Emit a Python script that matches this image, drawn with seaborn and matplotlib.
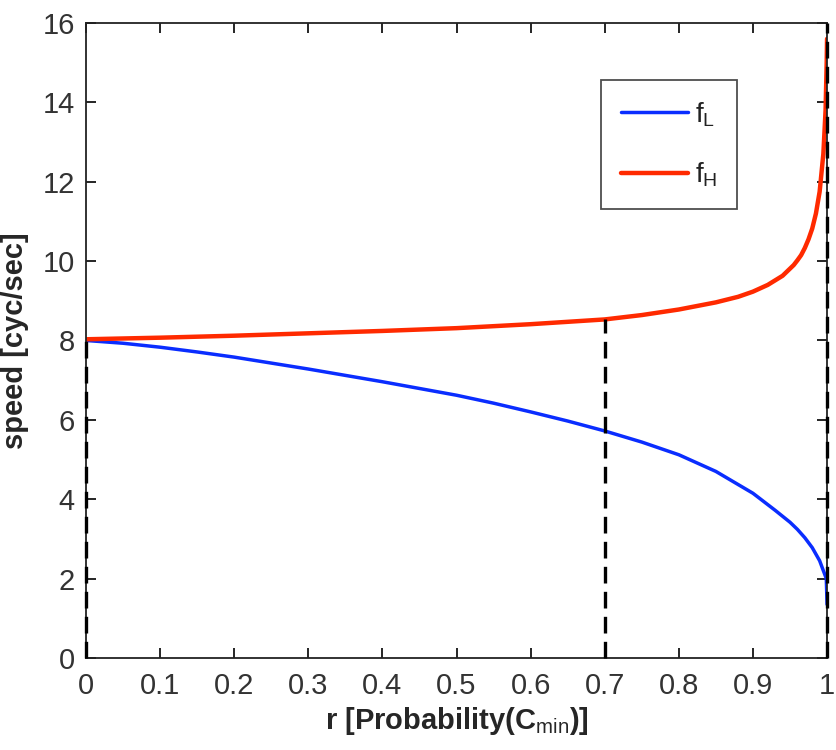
import numpy as np
import pandas as pd
import matplotlib
matplotlib.use("Agg")
import matplotlib.pyplot as plt
import seaborn as sns

# Probability of the minimum cost state
r_low = [0.0, 0.05, 0.1, 0.15, 0.2, 0.25, 0.3, 0.35, 0.4, 0.45, 0.5, 0.55,
         0.6, 0.65, 0.7, 0.75, 0.8, 0.85, 0.9, 0.93, 0.95, 0.96, 0.97, 0.98,
         0.99, 0.995, 0.999, 1.0]
f_low = [8.0, 7.93, 7.83, 7.71, 7.58, 7.43, 7.28, 7.12, 6.96, 6.79, 6.62, 6.42,
         6.2, 5.97, 5.72, 5.44, 5.12, 4.70, 4.15, 3.72, 3.42, 3.24, 3.03, 2.78,
         2.45, 2.2, 2.0, 1.35]

r_high = [0.0, 0.1, 0.2, 0.3, 0.4, 0.5, 0.6, 0.7, 0.75, 0.8, 0.85, 0.88,
          0.9, 0.92, 0.94, 0.955, 0.96, 0.965, 0.97, 0.975, 0.98, 0.985,
          0.99, 0.995, 0.998, 0.9995, 1.0]
f_high = [8.03, 8.07, 8.12, 8.18, 8.24, 8.31, 8.41, 8.53, 8.64, 8.78, 8.96,
          9.1, 9.23, 9.4, 9.63, 9.9, 10.02, 10.15, 10.33, 10.55, 10.82, 11.2,
          11.75, 12.7, 13.8, 15.0, 15.6]

# Reference probabilities marked with dashed lines, and their top ends
marker_r = [0.0, 0.7, 1.0]
marker_top = [8.0, 8.53, 16.0]

x_ticks = [0, 0.1, 0.2, 0.3, 0.4, 0.5, 0.6, 0.7, 0.8, 0.9, 1]
x_tick_labels = ["0", "0.1", "0.2", "0.3", "0.4", "0.5", "0.6", "0.7", "0.8", "0.9", "1"]
y_ticks = [0, 2, 4, 6, 8, 10, 12, 14, 16]
y_tick_labels = ["0", "2", "4", "6", "8", "10", "12", "14", "16"]

sns.set_theme(style="ticks")
plt.rcParams["font.family"] = ["Liberation Sans", "DejaVu Sans"]
plt.rcParams["mathtext.fontset"] = "custom"
plt.rcParams["mathtext.rm"] = "Liberation Sans"
plt.rcParams["mathtext.it"] = "Liberation Sans"
plt.rcParams["mathtext.bf"] = "Liberation Sans:bold"

BLUE = "#0a2dff"
RED = "#ff2a00"

df_low = pd.DataFrame({"r": r_low, "f": f_low})
df_high = pd.DataFrame({"r": r_high, "f": f_high})

fig = plt.figure(figsize=(8.36, 7.5), dpi=100)
ax = fig.add_axes([0.1029, 0.1227, 0.8864, 0.8467])

sns.lineplot(data=df_low, x="r", y="f", ax=ax, color=BLUE, lw=2.5,
             label=r"f$_{\mathrm{L}}$", sort=False, estimator=None)
sns.lineplot(data=df_high, x="r", y="f", ax=ax, color=RED, lw=3.2,
             label=r"f$_{\mathrm{H}}$", sort=False, estimator=None)

for xr, top in zip(marker_r, marker_top):
    ax.plot([xr, xr], [0, top], color="black", lw=2.4,
            linestyle=(0, (5, 2.5)), zorder=3, clip_on=False)

ax.set_xlim(0, 1)
ax.set_ylim(0, 16)
ax.set_xticks(x_ticks)
ax.set_xticklabels(x_tick_labels)
ax.set_yticks(y_ticks)
ax.set_yticklabels(y_tick_labels)
ax.tick_params(direction="in", length=7, width=1.2, colors="black",
               labelsize=21, top=True, right=True, pad=8)
ax.tick_params(axis="x", pad=10)
for lab in ax.get_xticklabels() + ax.get_yticklabels():
    lab.set_color("#333333")

for side in ["top", "right", "bottom", "left"]:
    ax.spines[side].set_visible(True)
    ax.spines[side].set_color("#222222")
    ax.spines[side].set_linewidth(1.3)

ax.set_xlabel(r"r [Probability(C$_{\mathrm{min}}$)]", fontsize=21,
              fontweight="bold", labelpad=4)
ax.set_ylabel("speed [cyc/sec]", fontsize=21, fontweight="bold", labelpad=10)

leg = ax.legend(loc="upper left", bbox_to_anchor=(0.695, 0.91),
                frameon=True, fancybox=False, fontsize=20,
                handlelength=2.4, labelspacing=1.15, borderpad=0.72,
                handletextpad=0.25, borderaxespad=0)
leg.get_frame().set_edgecolor("#222222")
leg.get_frame().set_linewidth(1.3)
for t in leg.get_texts():
    t.set_color("#222222")

fig.savefig("out.png", dpi=100, facecolor="white")
